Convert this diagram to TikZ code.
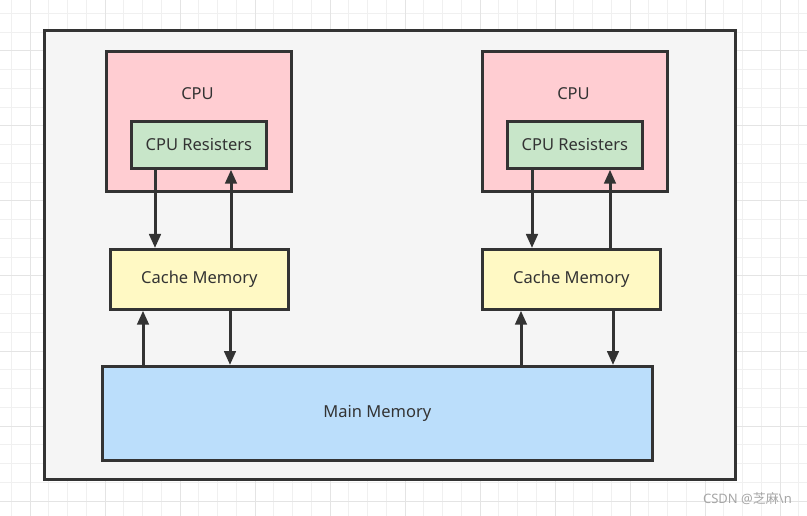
\documentclass[tikz,border=0pt]{standalone}
\usepackage{fontspec}
\setmainfont{Noto Sans}
\newfontfamily\cjk{Noto Sans CJK SC}
\usetikzlibrary{arrows.meta}
\definecolor{gridminor}{HTML}{F0F0F0}
\definecolor{gridmajor}{HTML}{E4E4E4}
\definecolor{strokec}{HTML}{333333}
\definecolor{outerfill}{HTML}{F5F5F5}
\definecolor{cpufill}{HTML}{FFCDD2}
\definecolor{regfill}{HTML}{C8E6C9}
\definecolor{cachefill}{HTML}{FFF9C4}
\definecolor{mainfill}{HTML}{BBDEFB}
\definecolor{textc}{HTML}{333333}
\definecolor{wmark}{HTML}{A6A6A6}
\tikzset{
  boxstyle/.style={draw=strokec, line width=2.7pt, inner sep=0pt, anchor=north west,
    text=textc, font=\fontsize{16.5}{18}\selectfont},
  lbl/.style={text=textc, font=\fontsize{16.5}{18}\selectfont, inner sep=0pt},
  arr/.style={draw=strokec, line width=3pt, -{Triangle[length=14pt,width=11.5pt]}},
}
\begin{document}
\begin{tikzpicture}[x=1pt,y=-1pt]
\useasboundingbox (0,0) rectangle (807,516);
\fill[white] (0,0) rectangle (807,516);
% grid
\foreach \i in {0,...,42} {
  \draw[gridminor, line width=1pt] ({11.25+18.75*\i},0) -- ({11.25+18.75*\i},516);
}
\foreach \i in {0,...,27} {
  \draw[gridminor, line width=1pt] (0,{13.5+18.75*\i}) -- (807,{13.5+18.75*\i});
}
\foreach \i in {0,...,10} {
  \draw[gridmajor, line width=1pt] ({30+75*\i},0) -- ({30+75*\i},516);
}
\foreach \i in {0,...,6} {
  \draw[gridmajor, line width=1pt] (0,{51+75*\i}) -- (807,{51+75*\i});
}
% outer container
\node[boxstyle, fill=outerfill, line width=2.8pt, minimum width=691pt, minimum height=449pt] (outer) at (43,29) {};
% CPUs
\node[boxstyle, fill=cpufill, minimum width=185pt, minimum height=140pt] (cpu1) at (105,50) {};
\node[boxstyle, fill=cpufill, minimum width=185pt, minimum height=140pt] (cpu2) at (481,50) {};
\node[lbl] (cpu1t) at (197.5,93.5) {CPU};
\node[lbl] (cpu2t) at (573.5,93.5) {CPU};
% registers
\node[boxstyle, fill=regfill, minimum width=135pt, minimum height=47pt] (reg1) at (130,120) {CPU Resisters};
\node[boxstyle, fill=regfill, minimum width=135pt, minimum height=47pt] (reg2) at (506,120) {CPU Resisters};
% caches
\node[boxstyle, fill=cachefill, minimum width=178pt, minimum height=60pt] (cache1) at (109,248) {Cache Memory};
\node[boxstyle, fill=cachefill, minimum width=178pt, minimum height=60pt] (cache2) at (481,248) {Cache Memory};
% main memory
\node[boxstyle, fill=mainfill, minimum width=550pt, minimum height=94pt] (main) at (101,365) {Main Memory};
% arrow x positions
\coordinate (a1) at (155,0);
\coordinate (a2) at (231,0);
\coordinate (a3) at (532,0);
\coordinate (a4) at (610,0);
\coordinate (b1) at (143,0);
\coordinate (b2) at (230,0);
\coordinate (b3) at (521,0);
\coordinate (b4) at (613,0);
% registers <-> cache
\draw[arr] (reg1.south -| a1) -- (cache1.north -| a1);
\draw[arr] (cache1.north -| a2) -- (reg1.south -| a2);
\draw[arr] (reg2.south -| a3) -- (cache2.north -| a3);
\draw[arr] (cache2.north -| a4) -- (reg2.south -| a4);
% cache <-> main
\draw[arr] (main.north -| b1) -- (cache1.south -| b1);
\draw[arr] (cache1.south -| b2) -- (main.north -| b2);
\draw[arr] (main.north -| b3) -- (cache2.south -| b3);
\draw[arr] (cache2.south -| b4) -- (main.north -| b4);
% watermark
\node[anchor=east, inner sep=0pt, text=wmark, font=\fontsize{13}{15}\selectfont] (wm) at (792,499) {CSDN @{\cjk 芝麻}\textbackslash n};
\end{tikzpicture}
\end{document}
